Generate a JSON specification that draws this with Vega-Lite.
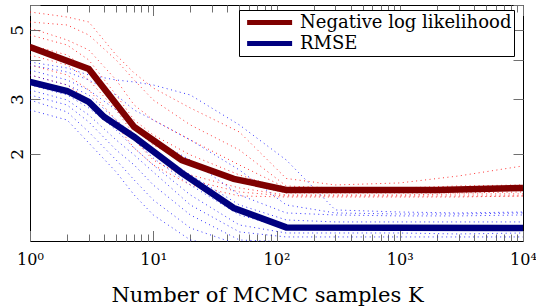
{
"$schema":"https://vega.github.io/schema/vega-lite/v6.json",
"width":493,"height":236,
"autosize":{"type":"none"},
"padding":{"left":30,"top":5,"right":13,"bottom":66},
"background":"white",
"config":{"view":{"stroke":"black","strokeWidth":1},"font":"DejaVu Serif","legend":{"labelFont":"DejaVu Serif"}},
"datasets":{
"red":[
{"k":1,"v":5.704,"s":"r1"},{"k":2,"v":5.497,"s":"r1"},{"k":3,"v":5.298,"s":"r1"},{"k":5,"v":4.153,"s":"r1"},{"k":7,"v":3.636,"s":"r1"},{"k":10,"v":3.255,"s":"r1"},{"k":20,"v":2.808,"s":"r1"},{"k":50,"v":2.352,"s":"r1"},{"k":120,"v":1.669,"s":"r1"},{"k":300,"v":1.591,"s":"r1"},{"k":1000,"v":1.615,"s":"r1"},{"k":3000,"v":1.700,"s":"r1"},{"k":10000,"v":1.831,"s":"r1"},
{"k":1,"v":5.298,"s":"r2"},{"k":2,"v":5.182,"s":"r2"},{"k":3,"v":4.813,"s":"r2"},{"k":5,"v":4.002,"s":"r2"},{"k":7,"v":3.453,"s":"r2"},{"k":10,"v":2.979,"s":"r2"},{"k":20,"v":2.478,"s":"r2"},{"k":50,"v":2.060,"s":"r2"},{"k":120,"v":1.579,"s":"r2"},{"k":300,"v":1.556,"s":"r2"},{"k":1000,"v":1.556,"s":"r2"},{"k":3000,"v":1.579,"s":"r2"},{"k":10000,"v":1.591,"s":"r2"},
{"k":1,"v":5.069,"s":"r3"},{"k":2,"v":4.639,"s":"r3"},{"k":3,"v":4.309,"s":"r3"},{"k":5,"v":3.453,"s":"r3"},{"k":7,"v":2.871,"s":"r3"},{"k":10,"v":2.570,"s":"r3"},{"k":20,"v":2.218,"s":"r3"},{"k":50,"v":1.844,"s":"r3"},{"k":120,"v":1.556,"s":"r3"},{"k":300,"v":1.534,"s":"r3"},{"k":1000,"v":1.534,"s":"r3"},{"k":3000,"v":1.545,"s":"r3"},{"k":10000,"v":1.556,"s":"r3"},
{"k":1,"v":4.813,"s":"r4"},{"k":2,"v":4.471,"s":"r4"},{"k":3,"v":4.002,"s":"r4"},{"k":5,"v":3.091,"s":"r4"},{"k":7,"v":2.570,"s":"r4"},{"k":10,"v":2.301,"s":"r4"},{"k":20,"v":1.986,"s":"r4"},{"k":50,"v":1.713,"s":"r4"},{"k":120,"v":1.534,"s":"r4"},{"k":300,"v":1.523,"s":"r4"},{"k":1000,"v":1.523,"s":"r4"},{"k":3000,"v":1.523,"s":"r4"},{"k":10000,"v":1.534,"s":"r4"},
{"k":1,"v":4.471,"s":"r5"},{"k":2,"v":4.153,"s":"r5"},{"k":3,"v":3.717,"s":"r5"},{"k":5,"v":2.871,"s":"r5"},{"k":7,"v":2.423,"s":"r5"},{"k":10,"v":2.137,"s":"r5"},{"k":20,"v":1.844,"s":"r5"},{"k":50,"v":1.626,"s":"r5"},{"k":120,"v":1.500,"s":"r5"},{"k":300,"v":1.500,"s":"r5"},{"k":1000,"v":1.500,"s":"r5"},{"k":3000,"v":1.500,"s":"r5"},{"k":10000,"v":1.511,"s":"r5"},
{"k":1,"v":4.153,"s":"r6"},{"k":2,"v":3.857,"s":"r6"},{"k":3,"v":3.453,"s":"r6"},{"k":5,"v":2.767,"s":"r6"},{"k":7,"v":2.301,"s":"r6"},{"k":10,"v":1.986,"s":"r6"},{"k":20,"v":1.713,"s":"r6"},{"k":50,"v":1.556,"s":"r6"},{"k":120,"v":1.478,"s":"r6"},{"k":300,"v":1.478,"s":"r6"},{"k":1000,"v":1.478,"s":"r6"},{"k":3000,"v":1.489,"s":"r6"},{"k":10000,"v":1.489,"s":"r6"},
{"k":1,"v":3.857,"s":"r7"},{"k":2,"v":3.583,"s":"r7"},{"k":3,"v":3.207,"s":"r7"},{"k":5,"v":2.570,"s":"r7"},{"k":7,"v":2.218,"s":"r7"},{"k":10,"v":1.913,"s":"r7"},{"k":20,"v":1.651,"s":"r7"},{"k":50,"v":1.511,"s":"r7"},{"k":120,"v":1.467,"s":"r7"},{"k":300,"v":1.467,"s":"r7"},{"k":1000,"v":1.467,"s":"r7"},{"k":3000,"v":1.467,"s":"r7"},{"k":10000,"v":1.467,"s":"r7"},
{"k":1,"v":3.583,"s":"r8"},{"k":2,"v":3.328,"s":"r8"},{"k":3,"v":2.979,"s":"r8"},{"k":5,"v":2.478,"s":"r8"},{"k":7,"v":2.090,"s":"r8"},{"k":10,"v":1.844,"s":"r8"},{"k":20,"v":1.591,"s":"r8"},{"k":50,"v":1.467,"s":"r8"},{"k":120,"v":1.456,"s":"r8"},{"k":300,"v":1.456,"s":"r8"},{"k":1000,"v":1.456,"s":"r8"},{"k":3000,"v":1.456,"s":"r8"},{"k":10000,"v":1.467,"s":"r8"}
],
"blue":[
{"k":1,"v":3.943,"s":"b1"},{"k":2,"v":3.773,"s":"b1"},{"k":3,"v":3.583,"s":"b1"},{"k":5,"v":3.453,"s":"b1"},{"k":7,"v":3.403,"s":"b1"},{"k":10,"v":3.328,"s":"b1"},{"k":20,"v":3.091,"s":"b1"},{"k":50,"v":2.478,"s":"b1"},{"k":120,"v":1.913,"s":"b1"},{"k":300,"v":1.323,"s":"b1"},{"k":1000,"v":1.303,"s":"b1"},{"k":3000,"v":1.294,"s":"b1"},{"k":10000,"v":1.303,"s":"b1"},
{"k":1,"v":3.857,"s":"b2"},{"k":2,"v":3.663,"s":"b2"},{"k":3,"v":3.453,"s":"b2"},{"k":5,"v":3.091,"s":"b2"},{"k":7,"v":2.767,"s":"b2"},{"k":10,"v":2.570,"s":"b2"},{"k":20,"v":2.218,"s":"b2"},{"k":50,"v":1.777,"s":"b2"},{"k":120,"v":1.373,"s":"b2"},{"k":300,"v":1.294,"s":"b2"},{"k":1000,"v":1.284,"s":"b2"},{"k":3000,"v":1.284,"s":"b2"},{"k":10000,"v":1.294,"s":"b2"},
{"k":1,"v":3.717,"s":"b3"},{"k":2,"v":3.453,"s":"b3"},{"k":3,"v":3.207,"s":"b3"},{"k":5,"v":2.767,"s":"b3"},{"k":7,"v":2.478,"s":"b3"},{"k":10,"v":2.218,"s":"b3"},{"k":20,"v":1.913,"s":"b3"},{"k":50,"v":1.478,"s":"b3"},{"k":120,"v":1.294,"s":"b3"},{"k":300,"v":1.275,"s":"b3"},{"k":1000,"v":1.266,"s":"b3"},{"k":3000,"v":1.266,"s":"b3"},{"k":10000,"v":1.275,"s":"b3"},
{"k":1,"v":3.583,"s":"b4"},{"k":2,"v":3.328,"s":"b4"},{"k":3,"v":3.091,"s":"b4"},{"k":5,"v":2.570,"s":"b4"},{"k":7,"v":2.301,"s":"b4"},{"k":10,"v":2.060,"s":"b4"},{"k":20,"v":1.713,"s":"b4"},{"k":50,"v":1.373,"s":"b4"},{"k":120,"v":1.229,"s":"b4"},{"k":300,"v":1.211,"s":"b4"},{"k":1000,"v":1.211,"s":"b4"},{"k":3000,"v":1.211,"s":"b4"},{"k":10000,"v":1.211,"s":"b4"},
{"k":1,"v":3.453,"s":"b5"},{"k":2,"v":3.207,"s":"b5"},{"k":3,"v":2.936,"s":"b5"},{"k":5,"v":2.478,"s":"b5"},{"k":7,"v":2.218,"s":"b5"},{"k":10,"v":1.941,"s":"b5"},{"k":20,"v":1.591,"s":"b5"},{"k":50,"v":1.275,"s":"b5"},{"k":120,"v":1.158,"s":"b5"},{"k":300,"v":1.150,"s":"b5"},{"k":1000,"v":1.150,"s":"b5"},{"k":3000,"v":1.150,"s":"b5"},{"k":10000,"v":1.150,"s":"b5"},
{"k":1,"v":3.328,"s":"b6"},{"k":2,"v":3.091,"s":"b6"},{"k":3,"v":2.808,"s":"b6"},{"k":5,"v":2.387,"s":"b6"},{"k":7,"v":2.090,"s":"b6"},{"k":10,"v":1.844,"s":"b6"},{"k":20,"v":1.478,"s":"b6"},{"k":50,"v":1.184,"s":"b6"},{"k":120,"v":1.116,"s":"b6"},{"k":300,"v":1.116,"s":"b6"},{"k":1000,"v":1.116,"s":"b6"},{"k":3000,"v":1.108,"s":"b6"},{"k":10000,"v":1.116,"s":"b6"},
{"k":1,"v":3.207,"s":"b7"},{"k":2,"v":2.979,"s":"b7"},{"k":3,"v":2.667,"s":"b7"},{"k":5,"v":2.218,"s":"b7"},{"k":7,"v":1.986,"s":"b7"},{"k":10,"v":1.751,"s":"b7"},{"k":20,"v":1.373,"s":"b7"},{"k":50,"v":1.125,"s":"b7"},{"k":120,"v":1.084,"s":"b7"},{"k":300,"v":1.084,"s":"b7"},{"k":1000,"v":1.084,"s":"b7"},{"k":3000,"v":1.084,"s":"b7"},{"k":10000,"v":1.084,"s":"b7"},
{"k":1,"v":3.091,"s":"b8"},{"k":2,"v":2.871,"s":"b8"},{"k":3,"v":2.533,"s":"b8"},{"k":5,"v":2.060,"s":"b8"},{"k":7,"v":1.844,"s":"b8"},{"k":10,"v":1.591,"s":"b8"},{"k":20,"v":1.275,"s":"b8"},{"k":50,"v":1.060,"s":"b8"},{"k":120,"v":1.045,"s":"b8"},{"k":300,"v":1.037,"s":"b8"},{"k":1000,"v":1.037,"s":"b8"},{"k":3000,"v":1.045,"s":"b8"},{"k":10000,"v":1.037,"s":"b8"},
{"k":1,"v":2.979,"s":"b9"},{"k":2,"v":2.727,"s":"b9"},{"k":3,"v":2.352,"s":"b9"},{"k":5,"v":1.913,"s":"b9"},{"k":7,"v":1.651,"s":"b9"},{"k":10,"v":1.424,"s":"b9"},{"k":20,"v":1.158,"s":"b9"},{"k":50,"v":1.022,"s":"b9"},{"k":120,"v":1.014,"s":"b9"},{"k":300,"v":1.014,"s":"b9"},{"k":1000,"v":1.014,"s":"b9"},{"k":3000,"v":1.014,"s":"b9"},{"k":10000,"v":1.014,"s":"b9"},
{"k":1,"v":2.767,"s":"b10"},{"k":2,"v":2.570,"s":"b10"},{"k":3,"v":2.169,"s":"b10"},{"k":5,"v":1.751,"s":"b10"},{"k":7,"v":1.478,"s":"b10"},{"k":10,"v":1.275,"s":"b10"},{"k":20,"v":1.060,"s":"b10"},{"k":50,"v":0.985,"s":"b10"},{"k":120,"v":0.985,"s":"b10"},{"k":300,"v":0.985,"s":"b10"},{"k":1000,"v":0.985,"s":"b10"},{"k":3000,"v":0.985,"s":"b10"},{"k":10000,"v":0.985,"s":"b10"}
],
"mean":[
{"k":1,"v":4.405,"m":"Negative log likelihood"},{"k":3,"v":3.745,"m":"Negative log likelihood"},{"k":7,"v":2.441,"m":"Negative log likelihood"},{"k":17,"v":1.913,"m":"Negative log likelihood"},{"k":45,"v":1.664,"m":"Negative log likelihood"},{"k":120,"v":1.534,"m":"Negative log likelihood"},{"k":2000,"v":1.534,"m":"Negative log likelihood"},{"k":10000,"v":1.556,"m":"Negative log likelihood"},
{"k":1,"v":3.403,"m":"RMSE"},{"k":2,"v":3.184,"m":"RMSE"},{"k":3,"v":2.936,"m":"RMSE"},{"k":4,"v":2.628,"m":"RMSE"},{"k":7,"v":2.268,"m":"RMSE"},{"k":17,"v":1.739,"m":"RMSE"},{"k":45,"v":1.342,"m":"RMSE"},{"k":120,"v":1.163,"m":"RMSE"},{"k":10000,"v":1.158,"m":"RMSE"}
]
},
"resolve":{"axis":{"x":"independent","y":"independent"}},
"layer":[
{"data":{"name":"red"},
 "mark":{"type":"line","color":"#ff0000","strokeWidth":1,"strokeDash":[1,3.5],"opacity":0.8,"clip":true},
 "encoding":{
  "x":{"field":"k","type":"quantitative","scale":{"type":"log","domain":[1,10000],"nice":false},
       "axis":{"orient":"top","values":[1,2,3,4,5,6,7,8,9,10,20,30,40,50,60,70,80,90,100,200,300,400,500,600,700,800,900,1000,2000,3000,4000,5000,6000,7000,8000,9000,10000],
               "domain":false,"grid":false,"labels":false,"title":null,"tickColor":"#707070","tickWidth":1,
               "tickSize":{"condition":{"test":"abs(log(datum.value)/LN10 - round(log(datum.value)/LN10)) < 0.001","value":-10.5},"value":-7}}},
  "y":{"field":"v","type":"quantitative","scale":{"type":"log","domain":[1.052,6.006],"nice":false,"zero":false},
       "axis":{"orient":"right","values":[2,3,4,5,6],"domain":false,"grid":false,"labels":false,"title":null,"tickColor":"#707070","tickWidth":1,"tickSize":-10}},
  "detail":{"field":"s"}}},
{"data":{"name":"blue"},
 "mark":{"type":"line","color":"#0000ff","strokeWidth":1,"strokeDash":[1,3.5],"opacity":0.8,"clip":true},
 "encoding":{
  "x":{"field":"k","type":"quantitative","axis":null},
  "y":{"field":"v","type":"quantitative","axis":null},
  "detail":{"field":"s"}}},
{"data":{"name":"mean"},
 "mark":{"type":"line","strokeWidth":6.5,"strokeJoin":"miter","strokeCap":"butt","clip":true},
 "encoding":{
  "x":{"field":"k","type":"quantitative",
       "axis":{"orient":"bottom","values":[1,2,3,4,5,6,7,8,9,10,20,30,40,50,60,70,80,90,100,200,300,400,500,600,700,800,900,1000,2000,3000,4000,5000,6000,7000,8000,9000,10000],
               "domain":false,"grid":false,"tickColor":"#707070","tickWidth":1,
               "tickSize":{"condition":{"test":"abs(log(datum.value)/LN10 - round(log(datum.value)/LN10)) < 0.001","value":-10.5},"value":-7},
               "labelExpr":"abs(log(datum.value)/LN10 - round(log(datum.value)/LN10)) < 0.001 ? '10' + ['⁰','¹','²','³','⁴'][round(log(datum.value)/LN10)] : ''",
               "labelFont":"DejaVu Serif","labelFontSize":16,"labelColor":"black","labelPadding":21,"labelOverlap":false,"labelFlush":false,
               "title":"Number of MCMC samples K","titleFont":"DejaVu Serif","titleFontSize":21,"titleFontWeight":"normal","titleColor":"black",
               "titleX":237,"titleY":60,"titleBaseline":"alphabetic","titleAlign":"center"}},
  "y":{"field":"v","type":"quantitative",
       "axis":{"orient":"left","values":[2,3,4,5,6],"domain":false,"grid":false,"tickColor":"#707070","tickWidth":1,"tickSize":-10,
               "labelExpr":"datum.value==2||datum.value==3||datum.value==5 ? datum.label : ''",
               "labelAngle":-90,"labelFont":"DejaVu Serif","labelFontSize":17,"labelColor":"black","labelPadding":14,"labelOverlap":false,"title":null}},
  "color":{"field":"m","type":"nominal","scale":{"domain":["Negative log likelihood","RMSE"],"range":["#7f0000","#00007f"]},
       "legend":{"orient":"none","legendX":209,"legendY":5,"title":null,"symbolType":"M-0.7,0H3.3","symbolSize":506,"symbolStrokeWidth":5,
                 "labelFont":"DejaVu Serif","labelFontSize":18,"labelColor":"black","strokeColor":"black","fillColor":"white",
                 "padding":2,"rowPadding":0,"clipHeight":21,"labelOffset":31,"labelLimit":400,"cornerRadius":0}}}}
]
}
